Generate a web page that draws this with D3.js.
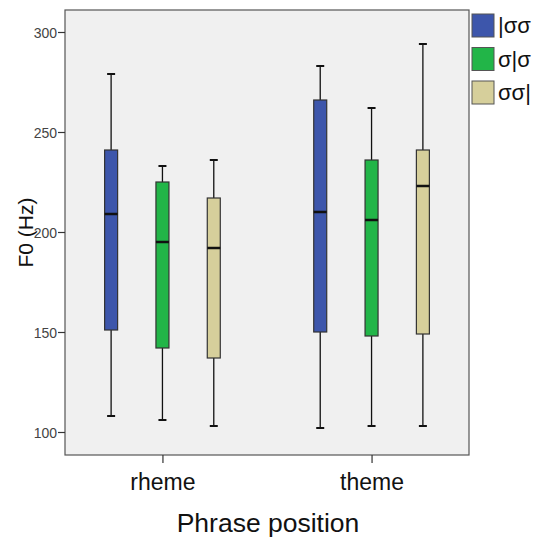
<!DOCTYPE html>
<html>
<head>
<meta charset="utf-8">
<script src="https://cdn.jsdelivr.net/npm/d3@7"></script>
<style>
  html, body { margin: 0; padding: 0; background: #fff; }
  svg { display: block; font-family: Arial, "Liberation Sans", sans-serif; }
</style>
</head>
<body>
<svg id="chart" width="537" height="543"></svg>
<script>
// Phrase positions on the x axis
const categories = ["rheme", "theme"];
// Stress position groups (legend order)
const series = ["|σσ", "σ|σ", "σσ|"];
const seriesColors = ["#3d56ab", "#22b548", "#d6cf9b"];
// Box statistics per category, per series: [low whisker, Q1, median, Q3, high whisker]
const rhemeStats = [
  [108, 151, 209, 241, 279],
  [106, 142, 195, 225, 233],
  [103, 137, 192, 217, 236]
];
const themeStats = [
  [102, 150, 210, 266, 283],
  [103, 148, 206, 236, 262],
  [103, 149, 223, 241, 294]
];
const yTicks = [100, 150, 200, 250, 300];

const statsByCategory = [rhemeStats, themeStats];

const svg = d3.select("#chart");
const plot = { left: 65, right: 469, top: 10, bottom: 455 };

const x = d3.scalePoint().domain(categories).range([plot.left, plot.right]).padding(0.466);
const xSeries = d3.scaleBand().domain(series).range([-77, 77]).padding(0);
const y = d3.scaleLinear().domain([88.5, 311]).range([plot.bottom, plot.top]);

// plot background
svg.append("rect")
  .attr("x", plot.left).attr("y", plot.top)
  .attr("width", plot.right - plot.left).attr("height", plot.bottom - plot.top)
  .attr("fill", "#f0f0f0").attr("stroke", "#555").attr("stroke-width", 1.2);

// y axis
const yAxis = d3.axisLeft(y).tickValues(yTicks).tickSize(7).tickPadding(1);
const gy = svg.append("g").attr("transform", `translate(${plot.left},0)`).call(yAxis);
gy.select(".domain").remove();
gy.selectAll(".tick line").attr("stroke", "#333").attr("stroke-width", 1.2);
gy.selectAll(".tick text").attr("fill", "#444").style("font-size", "14px").attr("dy", "0.36em");

// x axis
const xAxis = d3.axisBottom(x).tickSize(8).tickPadding(11);
const gx = svg.append("g").attr("transform", `translate(0,${plot.bottom})`).call(xAxis);
gx.select(".domain").remove();
gx.selectAll(".tick line").attr("stroke", "#333").attr("stroke-width", 1.2);
gx.selectAll(".tick text").attr("fill", "#111").style("font-size", "23px");

// axis titles
svg.append("text")
  .attr("transform", `translate(33,${(plot.top + plot.bottom) / 2}) rotate(-90)`)
  .attr("text-anchor", "middle")
  .style("font-size", "21px").attr("fill", "#111")
  .text("F0 (Hz)");
svg.append("text")
  .attr("x", 268).attr("y", 532)
  .attr("text-anchor", "middle")
  .style("font-size", "26.5px").attr("fill", "#111")
  .text("Phrase position");

// boxes
const boxW = 13, capW = 8;
categories.forEach((cat, ci) => {
  const cx0 = x(cat);
  statsByCategory[ci].forEach((s, si) => {
    const cx = cx0 + xSeries(series[si]) + xSeries.bandwidth() / 2;
    const [lo, q1, med, q3, hi] = s;
    const g = svg.append("g");
    g.append("line").attr("x1", cx).attr("x2", cx).attr("y1", y(hi)).attr("y2", y(lo))
      .attr("stroke", "#111").attr("stroke-width", 1.3);
    [lo, hi].forEach(v => g.append("line")
      .attr("x1", cx - capW / 2).attr("x2", cx + capW / 2).attr("y1", y(v)).attr("y2", y(v))
      .attr("stroke", "#111").attr("stroke-width", 2));
    g.append("rect")
      .attr("x", cx - boxW / 2).attr("y", y(q3))
      .attr("width", boxW).attr("height", y(q1) - y(q3))
      .attr("fill", seriesColors[si]).attr("stroke", "#333").attr("stroke-width", 1.2);
    g.append("line").attr("x1", cx - boxW / 2).attr("x2", cx + boxW / 2)
      .attr("y1", y(med)).attr("y2", y(med))
      .attr("stroke", "#111").attr("stroke-width", 2.5);
  });
});

// legend
const legend = svg.append("g").attr("transform", "translate(472,14)");
series.forEach((name, i) => {
  const row = legend.append("g").attr("transform", `translate(0,${i * 33.5})`);
  row.append("rect").attr("width", 22).attr("height", 23)
    .attr("fill", seriesColors[i]).attr("stroke", "#555").attr("stroke-width", 1);
  row.append("text").attr("x", 26).attr("y", 19)
    .style("font-size", "22px").attr("fill", "#111").text(name);
});
</script>
</body>
</html>
